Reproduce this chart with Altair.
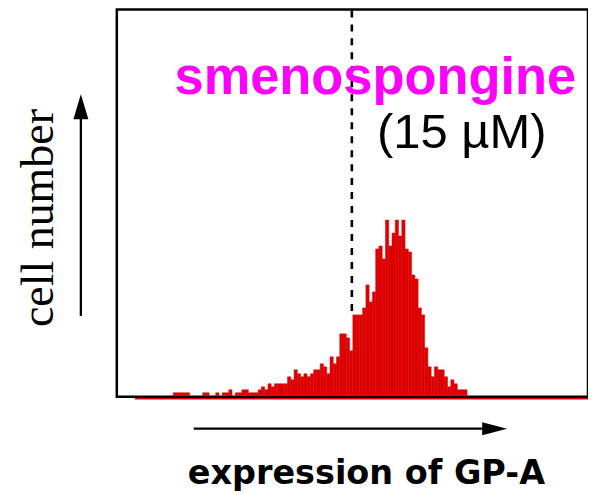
import altair as alt
import pandas as pd

# histogram: channel bins and cell counts
counts = ([0] * 17 + [3, 3, 3, 3, 3] + [0, 0, 0, 0] + [3, 3] + [0, 0] + [3] + [0]
          + [3, 3] + [6] + [0] + [3, 3] + [6, 6] + [3, 3, 3]
          + [6, 9, 6, 12, 9, 12, 12, 12, 12, 19, 16, 26, 22, 19, 22, 19, 22, 26, 26,
             32, 29, 22, 39, 32, 39, 62, 62, 58, 45, 81, 81, 81, 88, 111, 94, 104,
             147, 150, 137, 176, 150, 163, 176, 160, 176, 147, 144, 121, 117, 88, 81,
             48, 29, 19, 29, 26, 26, 19, 9, 16, 12, 6, 6, 6])
bins = list(range(len(counts)))

gate_x = [71.7]
gate_top = [386]
gate_bottom = [85]

title_text = ["smenospongine"]
conc_text = ["(15 \u00b5M)"]
x_label = ["expression of GP-A"]
y_label = ["cell number"]

df = pd.DataFrame({"start": bins, "count": counts})
df = df[df["count"] > 0]
df["end"] = df["start"] + 1

xs = alt.Scale(domain=[-0.3, 144.04], nice=False, zero=False)
ys = alt.Scale(domain=[-1, 387], nice=False, zero=False)
RED = "#dd0000"

bars = alt.Chart(df).mark_bar(color=RED, stroke=RED, strokeWidth=0.5).encode(
    x=alt.X("start:Q", scale=xs, axis=None),
    x2="end:Q",
    y=alt.Y("count:Q", scale=ys, axis=None),
    y2=alt.datum(0),
)

gate = alt.Chart(pd.DataFrame({"gx": gate_x, "gt": gate_top, "gb": gate_bottom})).mark_rule(
    color="black", strokeWidth=2.6, strokeDash=[7, 7]
).encode(
    x=alt.X("gx:Q", scale=xs, axis=None),
    y=alt.Y("gt:Q", scale=ys, axis=None),
    y2="gb:Q",
)

underline = alt.Chart(pd.DataFrame({"a": [0]})).mark_rule(color=RED, strokeWidth=1.5).encode(
    x=alt.value(18), x2=alt.value(473), y=alt.value(390)
)

t1 = alt.Chart(pd.DataFrame({"t": title_text})).mark_text(
    font="Liberation Sans", fontWeight="bold", fontSize=52.5, color="#ff00ff",
    align="center", baseline="alphabetic"
).encode(x=alt.value(259), y=alt.value(85), text="t:N")

t2 = alt.Chart(pd.DataFrame({"t": conc_text})).mark_text(
    font="Liberation Sans", fontSize=49, color="black",
    align="center", baseline="alphabetic"
).encode(x=alt.value(345.5), y=alt.value(139), text="t:N")

xl = alt.Chart(pd.DataFrame({"t": x_label})).mark_text(
    font="DejaVu Sans", fontWeight="bold", fontSize=33.5, color="black",
    align="center", baseline="alphabetic"
).encode(x=alt.value(250), y=alt.value(475), text="t:N")

yl = alt.Chart(pd.DataFrame({"t": y_label})).mark_text(
    font="Liberation Serif", fontSize=46, color="black", angle=270,
    align="center", baseline="alphabetic"
).encode(x=alt.value(-64), y=alt.value(209), text="t:N")

y_arrow_line = alt.Chart(pd.DataFrame({"a": [0]})).mark_rule(color="black", strokeWidth=2.3).encode(
    x=alt.value(-36), y=alt.value(307), y2=alt.value(104)
)
y_arrow_head = alt.Chart(pd.DataFrame({"a": [0]})).mark_point(
    shape="M0,-1L-0.6,1L0.6,1Z", filled=True, size=625, color="black", opacity=1, strokeWidth=0
).encode(x=alt.value(-36), y=alt.value(97.5))

x_arrow_line = alt.Chart(pd.DataFrame({"a": [0]})).mark_rule(color="black", strokeWidth=2.3).encode(
    x=alt.value(77), x2=alt.value(372), y=alt.value(420)
)
x_arrow_head = alt.Chart(pd.DataFrame({"a": [0]})).mark_point(
    shape="M1,0L-1,-0.52L-1,0.52Z", filled=True, size=625, color="black", opacity=1, strokeWidth=0
).encode(x=alt.value(378.5), y=alt.value(420))

chart = alt.layer(
    bars, gate, underline, t1, t2, xl, yl,
    y_arrow_line, y_arrow_head, x_arrow_line, x_arrow_head
).properties(
    width=472, height=388,
    autosize=alt.AutoSizeParams(type="none"),
    padding={"left": 109, "top": 1, "right": 0, "bottom": 96},
).configure_view(
    stroke="black", strokeWidth=2.5
)

chart.save("out.html", embed_options={"renderer": "svg", "actions": False})
